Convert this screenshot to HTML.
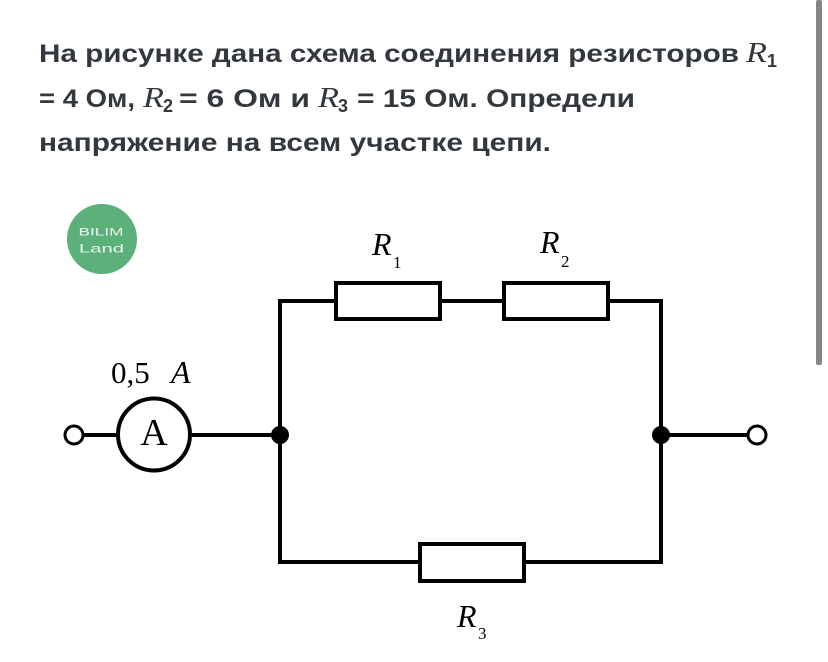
<!DOCTYPE html>
<html>
<head>
<meta charset="utf-8">
<style>
html,body{margin:0;padding:0;background:#fff;}
body{width:828px;height:662px;overflow:hidden;position:relative;}
svg{position:absolute;left:0;top:0;}
.t{font-family:"Liberation Sans","DejaVu Sans",sans-serif;font-weight:bold;font-size:25px;fill:#33383e;}
.m{font-family:"Liberation Serif","DejaVu Serif",serif;font-style:italic;font-size:29px;fill:#33383e;}
.s{font-family:"Liberation Sans","DejaVu Sans",sans-serif;font-weight:bold;font-size:18px;fill:#33383e;}
.d{font-family:"Liberation Serif","DejaVu Serif",serif;fill:#000;}
</style>
</head>
<body>
<svg width="828" height="662" viewBox="0 0 828 662" xmlns="http://www.w3.org/2000/svg">
  <!-- header text -->
  <text class="t" x="39" y="62" textLength="700" lengthAdjust="spacingAndGlyphs">На рисунке дана схема соединения резисторов</text>
  <text class="m" x="746" y="62" textLength="21" lengthAdjust="spacingAndGlyphs">R</text>
  <text class="s" x="767" y="67">1</text>

  <text class="t" x="39" y="107" textLength="96" lengthAdjust="spacingAndGlyphs">= 4 Ом,</text>
  <text class="m" x="143" y="107" textLength="21" lengthAdjust="spacingAndGlyphs">R</text>
  <text class="s" x="163" y="112">2</text>
  <text class="t" x="179" y="107" textLength="131" lengthAdjust="spacingAndGlyphs">= 6 Ом и</text>
  <text class="m" x="318" y="107" textLength="21" lengthAdjust="spacingAndGlyphs">R</text>
  <text class="s" x="338" y="112">3</text>
  <text class="t" x="357" y="107" textLength="278" lengthAdjust="spacingAndGlyphs">= 15 Ом. Определи</text>

  <text class="t" x="39" y="151" textLength="512" lengthAdjust="spacingAndGlyphs">напряжение на всем участке цепи.</text>

  <!-- scrollbar -->
  <rect x="816" y="0" width="6" height="365" rx="2" fill="#858585"/>

  <!-- logo -->
  <circle cx="102" cy="239" r="35" fill="#5cb07a"/>
  <text x="78.5" y="235.5" font-family="Liberation Sans, sans-serif" font-size="11" fill="#eef7f0" textLength="45" lengthAdjust="spacingAndGlyphs">BILIM</text>
  <text x="79" y="252.5" font-family="Liberation Sans, sans-serif" font-size="12" fill="#eef7f0" textLength="45" lengthAdjust="spacingAndGlyphs">Land</text>

  <!-- circuit wires -->
  <g stroke="#000" stroke-width="4" fill="none" stroke-linecap="butt" stroke-linejoin="miter">
    <line x1="84" y1="435" x2="116" y2="435"/>
    <line x1="192" y1="435" x2="280" y2="435"/>
    <polyline points="336,301 280,301 280,562 420,562"/>
    <line x1="440" y1="301" x2="504" y2="301"/>
    <polyline points="608,301 661,301 661,562 524,562"/>
    <line x1="661" y1="435" x2="747" y2="435"/>
    <!-- resistors -->
    <rect x="336" y="283" width="104" height="36" fill="#fff"/>
    <rect x="504" y="283" width="104" height="36" fill="#fff"/>
    <rect x="420" y="544" width="104" height="37" fill="#fff"/>
    <!-- ammeter -->
    <circle cx="154" cy="434.5" r="36" fill="#fff"/>
  </g>
  <!-- terminals -->
  <circle cx="74" cy="435" r="9" fill="#fff" stroke="#000" stroke-width="3"/>
  <circle cx="757" cy="435" r="9" fill="#fff" stroke="#000" stroke-width="3"/>
  <!-- junctions -->
  <circle cx="280" cy="435" r="9" fill="#000"/>
  <circle cx="661" cy="435" r="9" fill="#000"/>

  <!-- labels -->
  <text class="d" x="154" y="445" font-size="38" text-anchor="middle">A</text>
  <text class="d" x="111" y="383" font-size="31">0,5</text>
  <text class="d" x="171" y="383" font-size="32" font-style="italic">A</text>

  <text class="d" x="372" y="255" font-size="32" font-style="italic">R</text>
  <text class="d" x="393" y="268" font-size="17">1</text>

  <text class="d" x="540" y="253" font-size="32" font-style="italic">R</text>
  <text class="d" x="561" y="267" font-size="17">2</text>

  <text class="d" x="457" y="627" font-size="32" font-style="italic">R</text>
  <text class="d" x="478" y="639" font-size="17">3</text>
</svg>
</body>
</html>
